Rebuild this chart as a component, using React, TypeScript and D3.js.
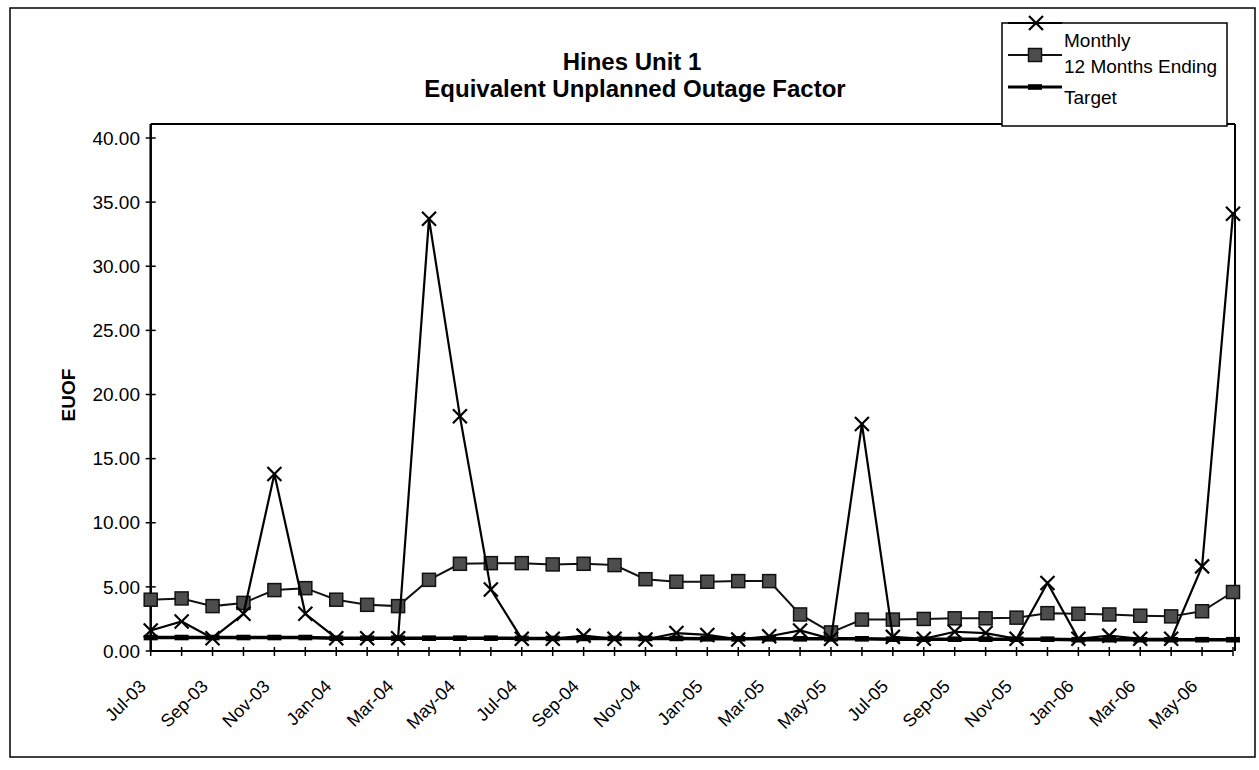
import React from "react";
import * as d3 from "d3";

const months = [
  "Jul-03","Aug-03","Sep-03","Oct-03","Nov-03","Dec-03",
  "Jan-04","Feb-04","Mar-04","Apr-04","May-04","Jun-04",
  "Jul-04","Aug-04","Sep-04","Oct-04","Nov-04","Dec-04",
  "Jan-05","Feb-05","Mar-05","Apr-05","May-05","Jun-05",
  "Jul-05","Aug-05","Sep-05","Oct-05","Nov-05","Dec-05",
  "Jan-06","Feb-06","Mar-06","Apr-06","May-06","Jun-06",
];

const monthly = [
  1.6, 2.3, 1.0, 2.9, 13.8, 2.9,
  1.0, 1.0, 1.0, 33.7, 18.3, 4.8,
  0.95, 0.95, 1.2, 0.95, 0.9, 1.4,
  1.25, 0.9, 1.15, 1.6, 0.95, 17.7,
  1.1, 0.95, 1.5, 1.4, 0.95, 5.3,
  0.95, 1.2, 0.95, 0.95, 6.6, 34.1,
];

const twelveMonths = [
  4.0, 4.1, 3.5, 3.75, 4.75, 4.9,
  4.0, 3.6, 3.5, 5.55, 6.8, 6.85,
  6.85, 6.75, 6.8, 6.7, 5.6, 5.4,
  5.4, 5.45, 5.45, 2.85, 1.45, 2.45,
  2.45, 2.5, 2.55, 2.55, 2.6, 2.95,
  2.9, 2.85, 2.75, 2.7, 3.1, 4.6,
];

const target = [
  1.05, 1.05, 1.05, 1.05, 1.05, 1.05,
  1.0, 1.0, 1.0, 1.0, 1.0, 1.0,
  0.98, 0.98, 0.98, 0.98, 0.98, 0.98,
  0.95, 0.95, 0.95, 0.95, 0.95, 0.95,
  0.92, 0.92, 0.92, 0.92, 0.92, 0.92,
  0.88, 0.88, 0.88, 0.88, 0.88, 0.88,
];

const yTicks = [0, 5, 10, 15, 20, 25, 30, 35, 40];
const titleLines = ["Hines Unit 1", "Equivalent Unplanned Outage Factor"];
const legendLabels = ["Monthly", "12 Months Ending", "Target"];
const yAxisTitle = "EUOF";

const FONT = "'Liberation Sans', Arial, Helvetica, sans-serif";

function XMark({ x, y, r = 7 }: { x: number; y: number; r?: number }) {
  return (
    <g stroke="#000" strokeWidth={2.2}>
      <line x1={x - r} y1={y - r} x2={x + r} y2={y + r} />
      <line x1={x - r} y1={y + r} x2={x + r} y2={y - r} />
    </g>
  );
}

function SquareMark({ x, y, s = 13 }: { x: number; y: number; s?: number }) {
  return (
    <rect x={x - s / 2} y={y - s / 2} width={s} height={s} fill="#4d4d4d" stroke="#111" strokeWidth={1.5} />
  );
}

function DashMark({ x, y }: { x: number; y: number }) {
  return <rect x={x - 7} y={y - 2.8} width={14} height={5.6} fill="#000" />;
}

export default function App() {
  const W = 1259;
  const H = 770;
  const left = 150.7;
  const right = 1233;
  const top = 124;
  const bottom = 651;

  const x = d3.scalePoint<string>().domain(months).range([left, right]);
  const y = d3.scaleLinear().domain([0, 40]).range([bottom, 138]);

  const line = d3
    .line<number>()
    .x((_, i) => x(months[i]) as number)
    .y((d) => y(d));

  return (
    <svg width={W} height={H} style={{ display: "block", position: "absolute", left: 0, top: 0, background: "#fff" }} fontFamily={FONT}>
      <rect x={0} y={0} width={W} height={H} fill="#fff" />
      {/* outer frame */}
      <rect x={10} y={8} width={1245} height={749} fill="none" stroke="#000" strokeWidth={1.5} />

      {/* title */}
      <text x={632} y={70} textAnchor="middle" fontSize={24} fontWeight="bold" fill="#000">{titleLines[0]}</text>
      <text x={635} y={97} textAnchor="middle" fontSize={24} fontWeight="bold" fill="#000">{titleLines[1]}</text>

      {/* plot border top/right */}
      <line x1={left} y1={top} x2={right + 2} y2={top} stroke="#000" strokeWidth={2} />
      <line x1={right + 2} y1={top} x2={right + 2} y2={bottom} stroke="#000" strokeWidth={2} />

      {/* y axis */}
      <line x1={left} y1={top} x2={left} y2={bottom} stroke="#000" strokeWidth={2.5} />
      {yTicks.map((t) => (
        <g key={t}>
          <line x1={left - 5} x2={left + 5} y1={y(t)} y2={y(t)} stroke="#000" strokeWidth={1.5} />
          <text x={140} y={y(t)} dy="0.35em" textAnchor="end" fontSize={19} fill="#000">
            {d3.format(".2f")(t)}
          </text>
        </g>
      ))}
      <text
        transform={`translate(68, 395) rotate(-90)`}
        textAnchor="middle"
        dy="0.35em"
        fontSize={19}
        fontWeight="bold"
        fill="#000"
      >
        {yAxisTitle}
      </text>

      {/* x axis */}
      <line x1={left} y1={bottom} x2={right} y2={bottom} stroke="#000" strokeWidth={2} />
      {months.map((m, i) => (
        <g key={m}>
          <line x1={x(m)} x2={x(m)} y1={bottom - 4} y2={bottom + 5} stroke="#000" strokeWidth={1.5} />
          {i % 2 === 0 && (
            <text
              transform={`translate(${(x(m) as number) - 8}, ${bottom + 32}) rotate(-45)`}
              textAnchor="end"
              dy="0.35em"
              fontSize={18}
              fill="#000"
            >
              {m}
            </text>
          )}
        </g>
      ))}

      {/* target */}
      <path d={line(target) || ""} fill="none" stroke="#000" strokeWidth={3.5} />
      {target.map((v, i) => (
        <DashMark key={"t" + i} x={x(months[i]) as number} y={y(v)} />
      ))}

      {/* 12 months ending */}
      <path d={line(twelveMonths) || ""} fill="none" stroke="#111" strokeWidth={2} />
      {twelveMonths.map((v, i) => (
        <SquareMark key={"s" + i} x={x(months[i]) as number} y={y(v)} />
      ))}

      {/* monthly */}
      <path d={line(monthly) || ""} fill="none" stroke="#000" strokeWidth={2.2} />
      {monthly.map((v, i) => (
        <XMark key={"m" + i} x={x(months[i]) as number} y={y(v)} />
      ))}

      {/* legend */}
      <rect x={1002} y={23} width={225} height={103} fill="#fff" stroke="#000" strokeWidth={1.5} />
      <line x1={1008} x2={1062} y1={23} y2={23} stroke="#000" strokeWidth={2.2} />
      <XMark x={1036} y={23} />
      <line x1={1008} x2={1062} y1={55} y2={55} stroke="#111" strokeWidth={2} />
      <SquareMark x={1035} y={55} />
      <line x1={1008} x2={1062} y1={87} y2={87} stroke="#000" strokeWidth={3} />
      <DashMark x={1035} y={87} />
      <text x={1064} y={40} dy="0.35em" fontSize={19} fill="#000">{legendLabels[0]}</text>
      <text x={1064} y={66} dy="0.35em" fontSize={19} fill="#000">{legendLabels[1]}</text>
      <text x={1064} y={97} dy="0.35em" fontSize={19} fill="#000">{legendLabels[2]}</text>
    </svg>
  );
}
